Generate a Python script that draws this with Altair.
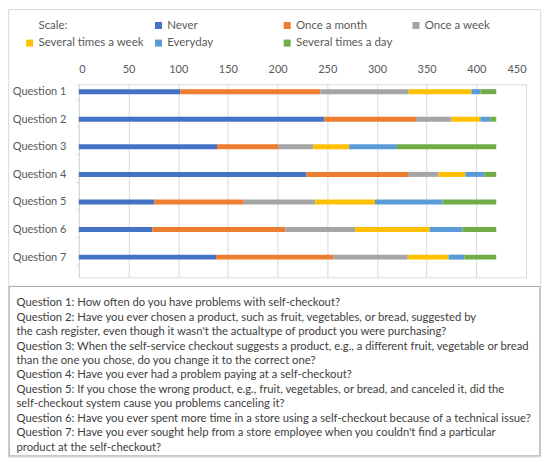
import altair as alt
import pandas as pd

questions = ["Question 1", "Question 2", "Question 3", "Question 4",
             "Question 5", "Question 6", "Question 7"]
categories = ["Never", "Once a month", "Once a week",
              "Several times a week", "Everyday", "Several times a day"]
never = [102, 247, 139, 229, 76, 74, 138]
once_month = [141, 93, 62, 103, 90, 134, 118]
once_week = [89, 35, 35, 30, 72, 70, 75]
several_week = [63, 29, 36, 27, 60, 75, 41]
everyday = [9, 10, 48, 19, 68, 33, 16]
several_day = [16, 6, 100, 12, 54, 34, 32]
colors = ["#4472C4", "#ED7D31", "#A5A5A5", "#FFC000", "#5B9BD5", "#70AD47"]
x_ticks = [0, 50, 100, 150, 200, 250, 300, 350, 400, 450]
NB = "\u00a0"
notes = [
    "Question 1: How often do you have problems with self-checkout?",
    "Question 2: Have you ever chosen a product, such as fruit, vegetables, or bread, suggested by",
    NB + "the cash register, even though it wasn't the actualtype of product you were purchasing?",
    "Question 3: When the self-service checkout suggests a product, e.g., a different fruit, vegetable or bread",
    NB + "than the one you chose, do you change it to the correct one?",
    "Question 4: Have you ever had a problem paying at a self-checkout?",
    "Question 5: If you chose the wrong product, e.g., fruit, vegetables, or bread, and canceled it, did the",
    "self-checkout system cause you problems canceling it?",
    "Question 6: Have you ever spent more time in a store using a self-checkout because of a technical issue?",
    "Question 7: Have you ever sought help from a store employee when you couldn't find a particular",
    NB + "product at the self-checkout?",
]

series = [never, once_month, once_week, several_week, everyday, several_day]
rows = []
for ci, (cat, vals) in enumerate(zip(categories, series)):
    for q, v in zip(questions, vals):
        rows.append({"question": q, "scale": cat, "order": ci, "value": v})
df = pd.DataFrame(rows)

legend_domain = ["Scale:"] + categories
legend_range = ["transparent"] + colors

FONT = "Lato"
FS = 11
FS_LEG = 11.5
FS_TXT = 11.3

bars = alt.Chart(df).mark_bar(size=5).encode(
    x=alt.X("value:Q", stack="zero",
            scale=alt.Scale(domain=[0, 450], nice=False),
            axis=alt.Axis(orient="top", values=x_ticks, title=None, grid=True,
                          gridColor="#d9d9d9", ticks=False, tickSize=0, domain=False,
                          labelPadding=10, labelColor="#595959",
                          labelFontSize=FS, labelFont=FONT)),
    y=alt.Y("question:N", sort=questions,
            scale=alt.Scale(paddingInner=0.464, paddingOuter=0.232, align=0),
            axis=alt.Axis(title=None, domainColor="#d9d9d9", tickColor="#d9d9d9",
                          tickSize=3, tickBand="extent", labelPadding=10,
                          labelColor="#595959", labelFontSize=FS, labelFont=FONT)),
    color=alt.Color("scale:N",
                    scale=alt.Scale(domain=legend_domain, range=legend_range),
                    legend=alt.Legend(title=None, orient="none", legendX=-55,
                                      legendY=-65, direction="horizontal",
                                      columns=4, gridAlign="all",
                                      symbolType="square", symbolSize=49,
                                      symbolStrokeWidth=0, labelFontSize=FS_LEG,
                                      labelFont=FONT, labelColor="#595959",
                                      columnPadding=8, rowPadding=5,
                                      labelOffset=3, padding=0)),
    order=alt.Order("order:Q"),
)

one = pd.DataFrame({"k": [0]})
frame = alt.Chart(one).mark_rect(fillOpacity=0, stroke="#d9d9d9", strokeWidth=1).encode(
    x=alt.value(-70.3), x2=alt.value(462.7), y=alt.value(-74.8), y2=alt.value(373.5))
box = alt.Chart(one).mark_rect(fillOpacity=0, stroke="#a6a6a6", strokeWidth=1).encode(
    x=alt.value(-69.8), x2=alt.value(461.8), y=alt.value(202.5), y2=alt.value(372.3))

notes_df = pd.DataFrame({"line": list(range(len(notes))), "text": notes})
text = alt.Chart(notes_df).mark_text(align="left", baseline="middle", fontSize=FS_TXT,
                                     font=FONT, color="#404040").encode(
    x=alt.value(-62.5),
    y=alt.Y("line:Q", scale=alt.Scale(domain=[0, 10], range=[219.5, 364]), axis=None),
    text="text:N",
)

chart = alt.layer(frame, box, bars, text).resolve_scale(y="independent").properties(
    width=448, height=193.4, padding=0
).configure_view(stroke=None).configure(background="white")

chart.save("out.html", embed_options={"renderer": "svg", "actions": False})
